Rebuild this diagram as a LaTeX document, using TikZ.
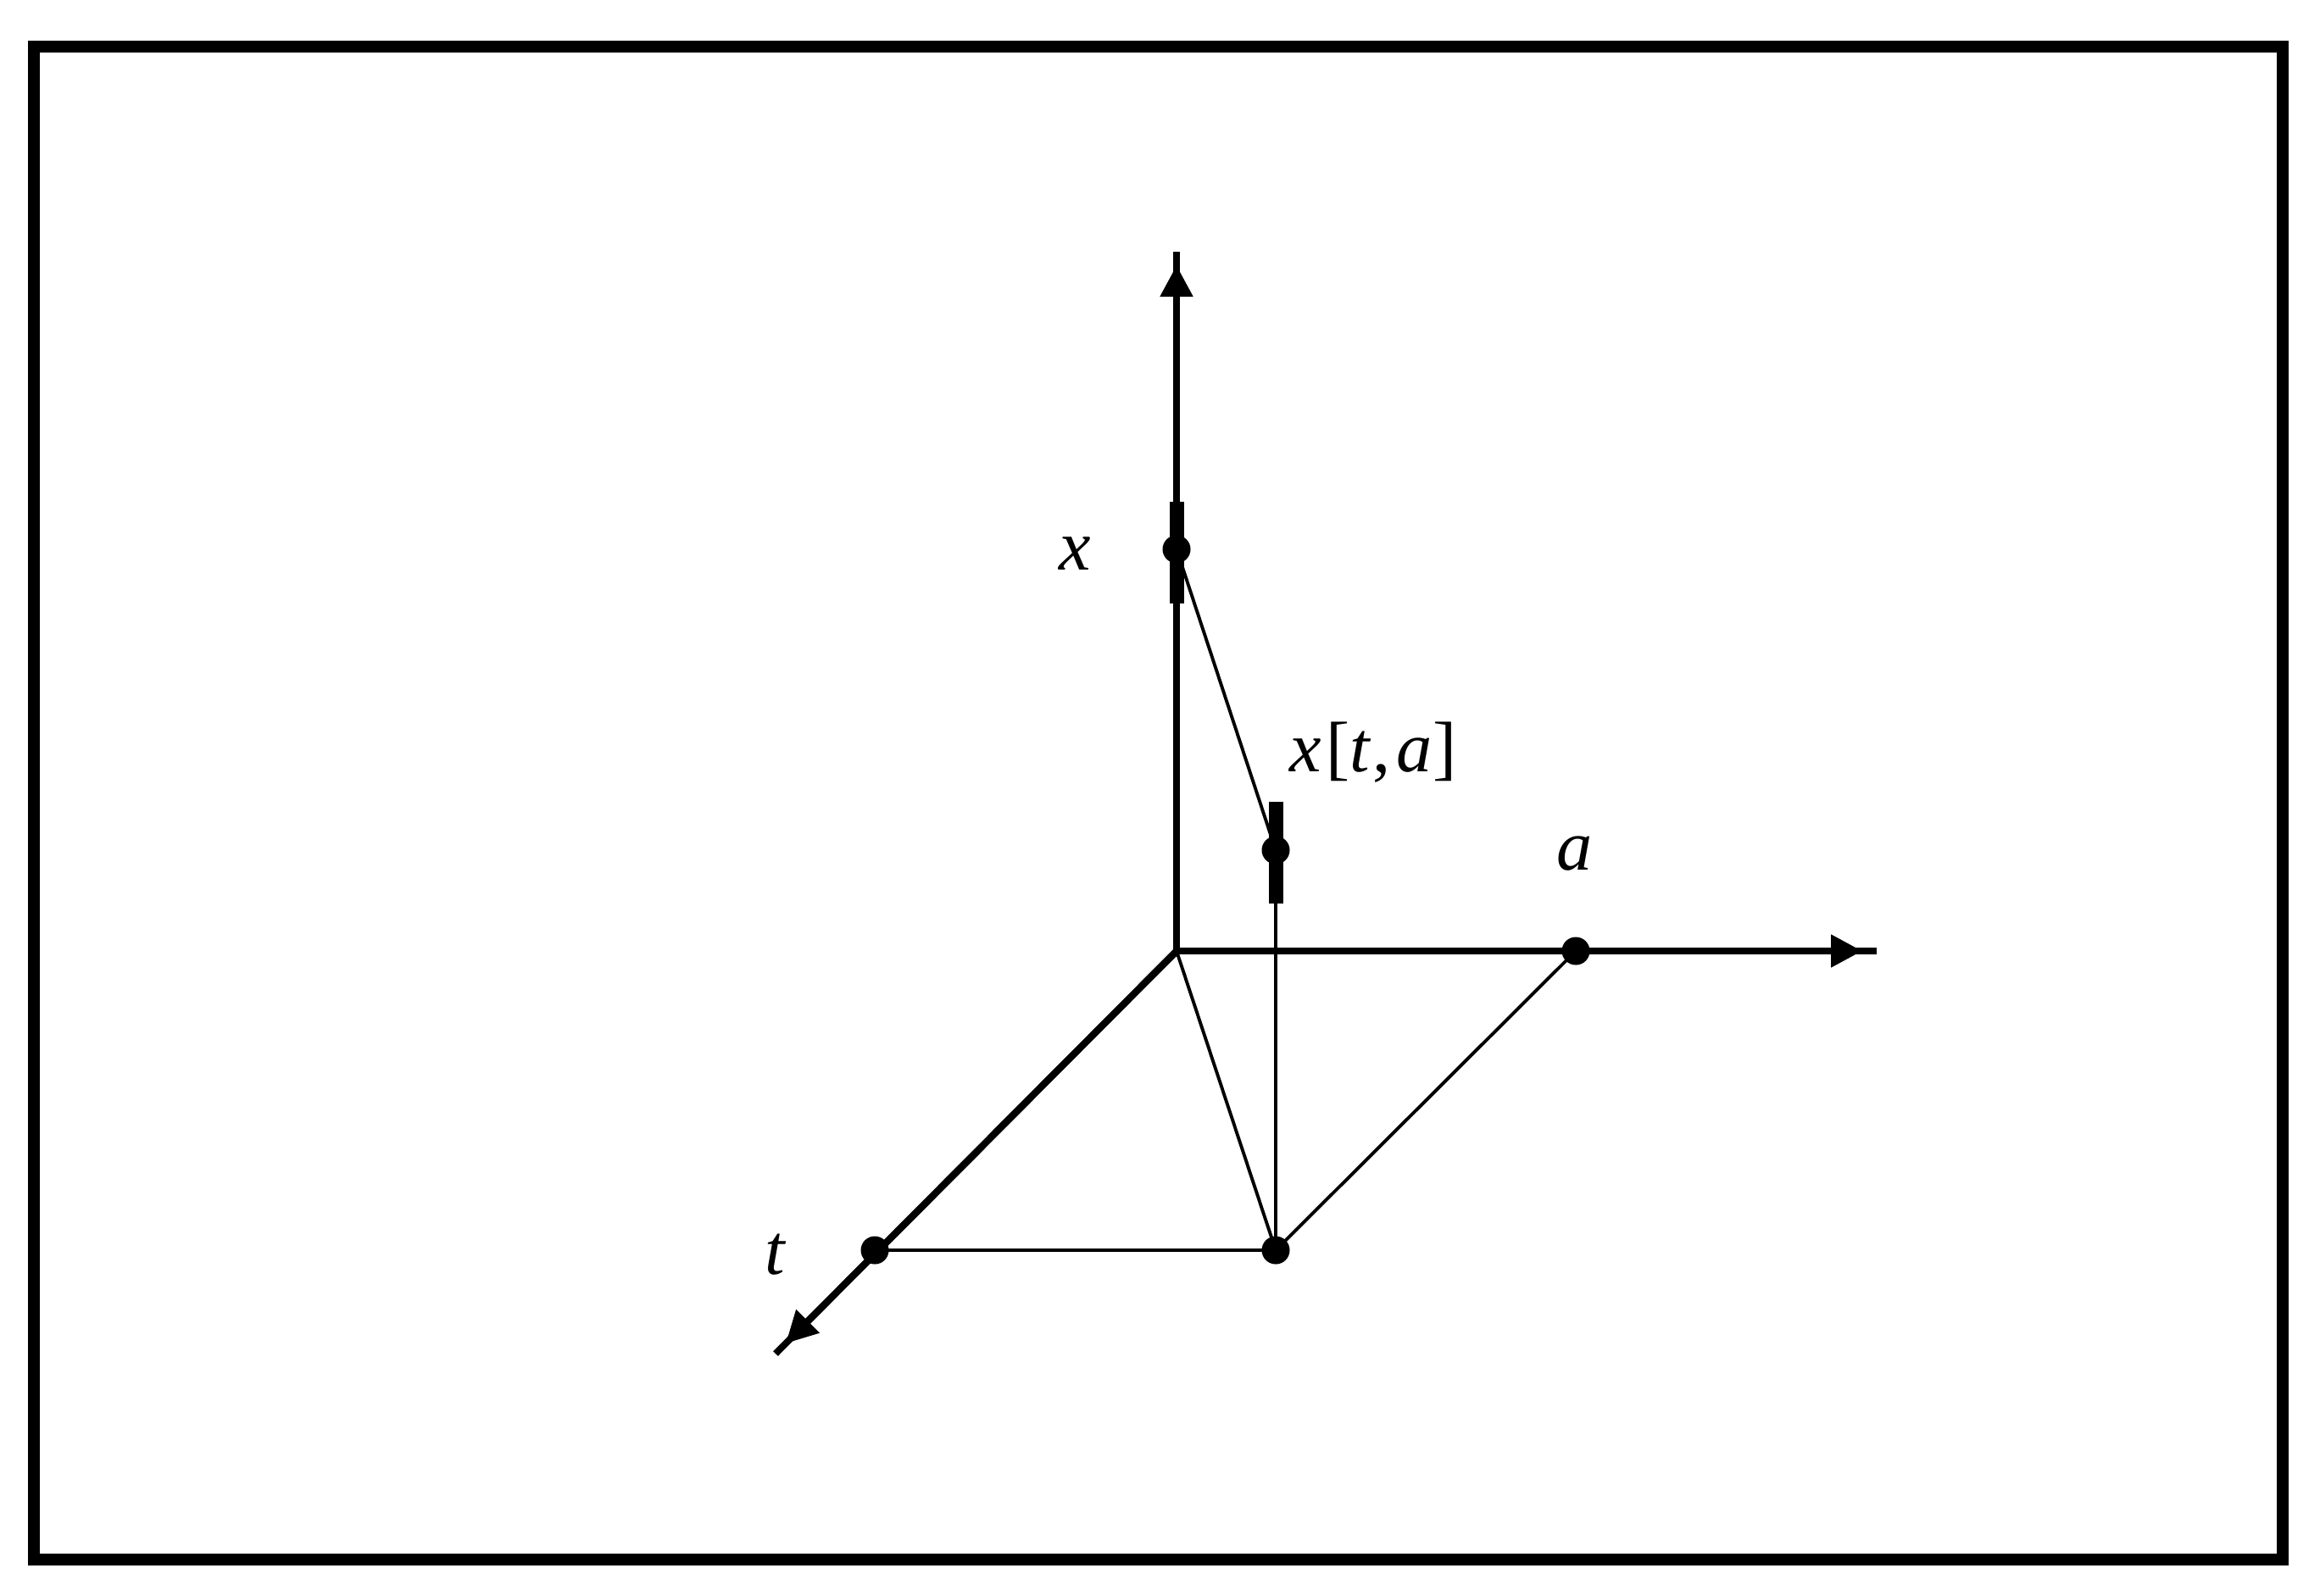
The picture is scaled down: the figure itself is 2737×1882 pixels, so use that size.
\documentclass[tikz,border=0pt]{standalone}
\usepackage{fontspec}
\setmainfont{Liberation Serif}
\usetikzlibrary{arrows.meta}
\tikzset{
  axisline/.style={line width=2.3pt, line cap=butt},
  axistip/.style={line width=2.3pt, -{Triangle[length=0.37cm, width=0.37cm]}},
  thinline/.style={line width=1.1pt},
  frameline/.style={line width=4pt},
  dot/.style={circle, fill=black, inner sep=0pt, minimum size=0.33cm},
  tickbar/.style={rectangle, fill=black, inner sep=0pt, minimum width=0.17cm, minimum height=1.2cm},
  lab/.style={inner sep=0pt, font=\fontsize{24}{28}\selectfont}
}
\begin{document}
\begin{tikzpicture}[x={(0.01cm,0)}, y={(0,-0.01cm)}]
\useasboundingbox (0,0) rectangle (2737,1882);
\draw[frameline] (40,55) rectangle (2693,1840);
% points
\coordinate (O) at (1388,1122);
\coordinate (Xend) at (1388,297);
\coordinate (Xtip) at (1388,313);
\coordinate (Aend) at (2214,1122);
\coordinate (Atip) at (2197,1122);
\coordinate (Tend) at (915,1597);
\coordinate (Ttip) at (927,1585);
% axes
\draw[axisline] (O) -- (Xend);
\draw[axistip] (O) -- (Xtip);
\draw[axisline] (O) -- (Aend);
\draw[axistip] (O) -- (Atip);
\draw[axisline] (O) -- (Tend);
\draw[axistip] (O) -- (Ttip);
% bars and dots
\node[tickbar] (X1bar) at (1388,652) {};
\node[tickbar] (X2bar) at (1505,1006) {};
\node[dot] (X1) at (1388,648) {};
\node[dot] (X2) at (1505,1003) {};
\node[dot] (A) at (1859,1122) {};
\node[dot] (T) at (1032,1475) {};
\node[dot] (P) at (1505,1475) {};
% thin lines
\draw[thinline] (T.center) -- (P.center);
\draw[thinline] (P.center) -- (A.center);
\draw[thinline] (O) -- (P.center);
\draw[thinline] (P.center) -- (X2.center);
\draw[thinline] (X1.center) -- (X2.center);
% labels
\node[lab] (xl) at (1268,653) {\textit{x}};
\node[lab] (tl) at (915,1480) {\textit{t}};
\node[lab] (al) at (1858,1007) {\textit{a}};
\node[lab] (xtal) at (1620,888) {\textit{x}\kern1.5pt[\textit{t}\kern0.5pt,\kern2pt\textit{a}]};
\end{tikzpicture}
\end{document}
